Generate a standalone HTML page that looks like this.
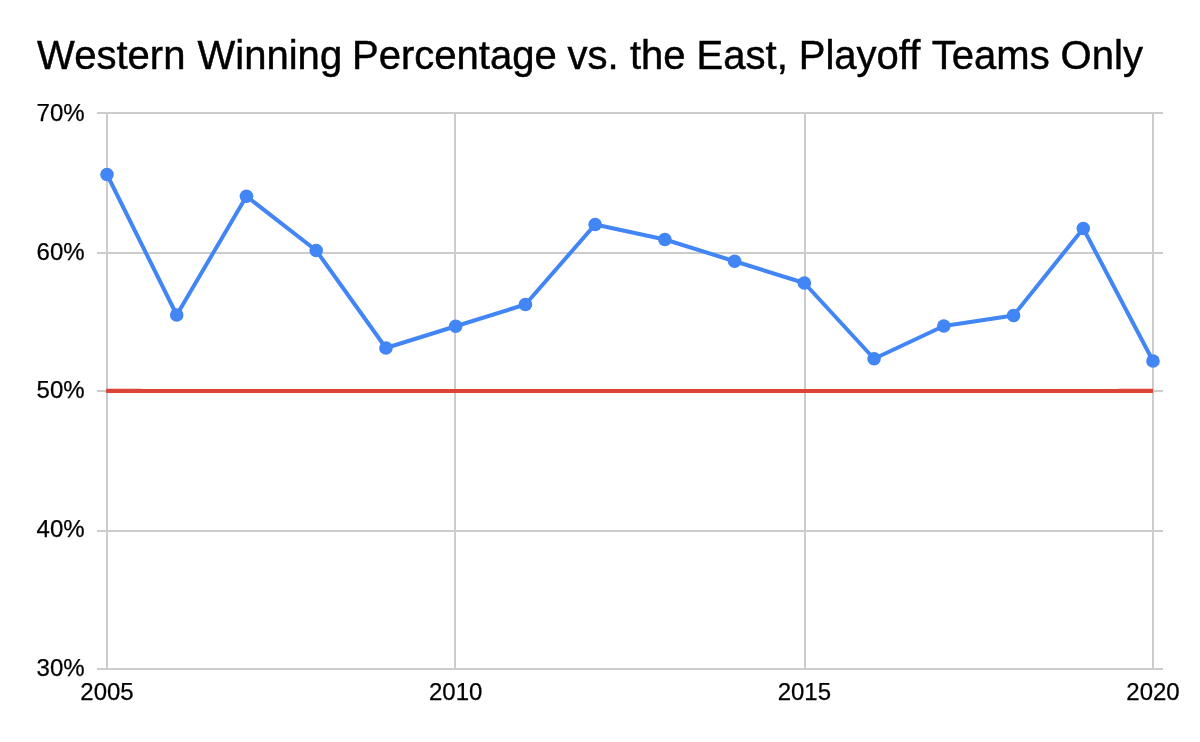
<!DOCTYPE html>
<html lang="en">
<head>
<meta charset="utf-8">
<title>Western Winning Percentage vs. the East, Playoff Teams Only</title>
<style>
html,body{margin:0;padding:0;background:#ffffff;}
body{width:1200px;height:742px;overflow:hidden;}
svg{display:block;}
text{font-family:"Liberation Sans",Arial,Helvetica,sans-serif;fill:#000000;}
.lab text{font-size:24px;stroke:#000;stroke-width:0.25px;}
.title{font-size:40px;stroke:#000;stroke-width:0.45px;letter-spacing:0.02px;}
</style>
</head>
<body>
<svg width="1200" height="742" viewBox="0 0 1200 742">
<rect x="0" y="0" width="1200" height="742" fill="#ffffff"/>
<text class="title" y="69"><tspan x="37.1">Western</tspan> <tspan x="197.5">Winning</tspan> <tspan x="352.0">Percentage</tspan> <tspan x="567.5">vs.</tspan> <tspan x="629.9">the</tspan> <tspan x="696.6">East,</tspan> <tspan x="798.7">Playoff</tspan> <tspan x="931.8">Teams</tspan> <tspan x="1060.6">Only</tspan></text>
<g>
<rect x="97" y="112" width="1066" height="2" fill="#cccccc"/>
<rect x="97" y="252" width="1066" height="2" fill="#cccccc"/>
<rect x="97" y="390" width="1066" height="2" fill="#cccccc"/>
<rect x="97" y="530" width="1066" height="2" fill="#cccccc"/>
<rect x="97" y="668" width="1066" height="2" fill="#cccccc"/>
<rect x="106.0" y="112" width="2" height="558" fill="#cccccc"/>
<rect x="454.0" y="112" width="2" height="558" fill="#cccccc"/>
<rect x="804.0" y="112" width="2" height="558" fill="#cccccc"/>
<rect x="1152.0" y="112" width="2" height="558" fill="#cccccc"/>
</g>
<g class="lab">
<text x="84.6" y="120.7" text-anchor="end">70%</text>
<text x="84.6" y="259.7" text-anchor="end">60%</text>
<text x="84.6" y="398.4" text-anchor="end">50%</text>
<text x="84.6" y="537.1" text-anchor="end">40%</text>
<text x="84.6" y="676.0" text-anchor="end">30%</text>
<text x="107" y="699.5" text-anchor="middle">2005</text>
<text x="455.67" y="699.5" text-anchor="middle">2010</text>
<text x="804.33" y="699.5" text-anchor="middle">2015</text>
<text x="1153" y="699.5" text-anchor="middle">2020</text>
</g>
<g stroke="#db4437" stroke-width="4" fill="none">
<line x1="106.3" y1="391" x2="1153" y2="391"/>
<polyline points="106.3,390.7 139,390.7 143,391"/>
<polyline points="1116,391 1120,390.7 1153,390.7"/>
</g>
<polyline points="107.00,174.50 176.73,315.00 246.47,196.25 316.20,250.50 385.93,348.00 455.67,326.25 525.40,304.50 595.13,224.50 664.87,239.50 734.60,261.25 804.33,283.00 874.07,358.75 943.80,326.00 1013.53,315.50 1083.27,228.50 1153.00,361.00" fill="none" stroke="#4285f4" stroke-width="4" stroke-linejoin="round" stroke-linecap="round"/>
<g fill="#4285f4"><circle cx="107.00" cy="174.50" r="6.8"/><circle cx="176.73" cy="315.00" r="6.8"/><circle cx="246.47" cy="196.25" r="6.8"/><circle cx="316.20" cy="250.50" r="6.8"/><circle cx="385.93" cy="348.00" r="6.8"/><circle cx="455.67" cy="326.25" r="6.8"/><circle cx="525.40" cy="304.50" r="6.8"/><circle cx="595.13" cy="224.50" r="6.8"/><circle cx="664.87" cy="239.50" r="6.8"/><circle cx="734.60" cy="261.25" r="6.8"/><circle cx="804.33" cy="283.00" r="6.8"/><circle cx="874.07" cy="358.75" r="6.8"/><circle cx="943.80" cy="326.00" r="6.8"/><circle cx="1013.53" cy="315.50" r="6.8"/><circle cx="1083.27" cy="228.50" r="6.8"/><circle cx="1153.00" cy="361.00" r="6.8"/></g>
</svg>
</body>
</html>
